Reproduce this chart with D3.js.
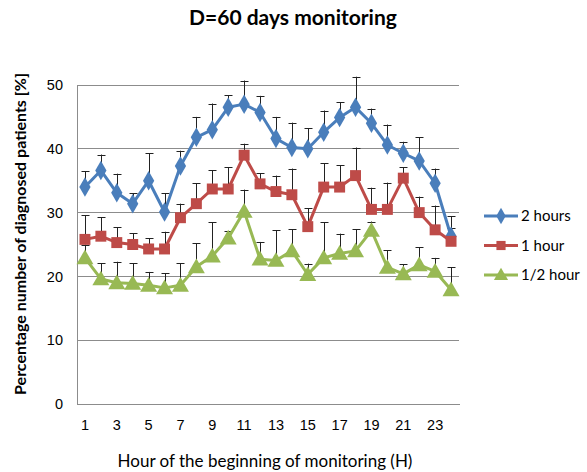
<!DOCTYPE html>
<html>
<head>
<meta charset="utf-8">
<script src="https://cdn.jsdelivr.net/npm/d3@7"></script>
<style>
  body { margin: 0; background: #fff; }
  svg { font-family: Lato, "Open Sans", sans-serif; }
</style>
</head>
<body>
<div id="chart"></div>
<script>
// hours 1..24
var hours = d3.range(1, 25);
var tickHours = [1, 3, 5, 7, 9, 11, 13, 15, 17, 19, 21, 23];
var yTicks = [0, 10, 20, 30, 40, 50];

var seriesNames = ["2 hours", "1 hour", "1/2 hour"];

var twoHours = [34.0, 36.6, 33.1, 31.4, 35.0, 30.1, 37.3, 41.8, 43.0, 46.5, 47.0, 45.7,
  41.6, 40.2, 40.0, 42.6, 44.9, 46.5, 44.0, 40.6, 39.3, 38.1, 34.6, 26.3];
var twoHoursErr = [36.5, 39.1, 36.1, 33.0, 39.3, 33.0, 39.7, 45.0, 47.1, 48.4, 50.7, 48.3,
  45.0, 44.1, 43.2, 46.0, 47.3, 51.3, 46.3, 43.8, 41.1, 41.8, 36.9, 29.4];

var oneHour = [25.8, 26.3, 25.3, 25.0, 24.3, 24.3, 29.2, 31.4, 33.7, 33.7, 39.0, 34.5,
  33.3, 32.8, 27.8, 34.0, 34.0, 35.8, 30.5, 30.5, 35.4, 30.0, 27.3, 25.5];
var oneHourErr = [29.6, 29.3, 27.7, 26.8, 26.0, 27.0, 31.4, 34.6, 36.6, 37.1, 40.8, 36.2,
  35.8, 36.9, 30.7, 37.7, 37.4, 40.2, 33.9, 34.7, 37.1, 32.5, 31.1, 27.6];

var halfHour = [22.9, 19.6, 19.0, 18.9, 18.6, 18.2, 18.6, 21.5, 23.2, 26.0, 30.2, 22.7,
  22.5, 24.0, 20.3, 22.9, 23.6, 24.0, 27.2, 21.4, 20.4, 21.8, 20.8, 17.9];
var halfHourErr = [25.0, 22.1, 22.3, 22.1, 20.7, 20.5, 22.1, 25.2, 28.5, 27.1, 33.6, 25.4,
  27.2, 27.4, 22.0, 28.5, 26.7, 27.4, 28.6, 24.1, 21.9, 24.6, 22.9, 21.4];

var colors = ["#4a7ebb", "#be4b48", "#98b954"];
var symbols = [d3.symbolDiamond, d3.symbolSquare, d3.symbolTriangle];
var symSizes = [110, 120, 125];

var series = [
  { name: seriesNames[0], values: twoHours, err: twoHoursErr },
  { name: seriesNames[1], values: oneHour, err: oneHourErr },
  { name: seriesNames[2], values: halfHour, err: halfHourErr }
];

var width = 587, height = 472;
var margin = { top: 85, right: 128, bottom: 68, left: 77 };

var svg = d3.select("#chart").append("svg")
  .attr("width", width)
  .attr("height", height);

var x = d3.scaleBand()
  .domain(hours)
  .range([margin.left, width - margin.right]);

var y = d3.scaleLinear()
  .domain([0, 50])
  .range([height - margin.bottom, margin.top]);

var cx = function(h) { return x(h) + x.bandwidth() / 2; };

// gridlines
svg.append("g")
  .selectAll("line")
  .data(yTicks.slice(1))
  .join("line")
  .attr("x1", margin.left)
  .attr("x2", width - margin.right)
  .attr("y1", function(d) { return y(d); })
  .attr("y2", function(d) { return y(d); })
  .attr("stroke", "#8c8c8c")
  .attr("stroke-width", 1)
  .attr("shape-rendering", "crispEdges");

// y axis
var yAxis = svg.append("g")
  .attr("transform", "translate(" + margin.left + ",0)")
  .call(d3.axisLeft(y).tickValues(yTicks).tickSize(0).tickPadding(14));
yAxis.select(".domain").attr("stroke", "#8c8c8c").attr("shape-rendering", "crispEdges");
yAxis.selectAll("text").attr("font-size", 14.5).attr("fill", "#000");

// x axis
var xAxis = svg.append("g")
  .attr("transform", "translate(0," + y(0) + ")")
  .call(d3.axisBottom(x).tickValues(tickHours).tickSize(0).tickPadding(16));
xAxis.select(".domain").attr("stroke", "#8c8c8c").attr("shape-rendering", "crispEdges");
xAxis.selectAll("text").attr("font-size", 14.5).attr("fill", "#000");

// error bars (upper)
series.forEach(function(s) {
  var g = svg.append("g").attr("stroke", "#222").attr("stroke-width", 1);
  g.selectAll("line.v")
    .data(hours)
    .join("line")
    .attr("class", "v")
    .attr("x1", function(h) { return Math.round(cx(h)) + 0.5; })
    .attr("x2", function(h) { return Math.round(cx(h)) + 0.5; })
    .attr("y1", function(h, i) { return y(s.values[i]); })
    .attr("y2", function(h, i) { return y(s.err[i]); });
  g.selectAll("line.c")
    .data(hours)
    .join("line")
    .attr("class", "c")
    .attr("x1", function(h) { return Math.round(cx(h)) + 0.5 - 4; })
    .attr("x2", function(h) { return Math.round(cx(h)) + 0.5 + 4; })
    .attr("y1", function(h, i) { return Math.round(y(s.err[i])) + 0.5; })
    .attr("y2", function(h, i) { return Math.round(y(s.err[i])) + 0.5; });
});

// lines + markers
var line = d3.line()
  .x(function(d) { return cx(d.h); })
  .y(function(d) { return y(d.v); });

series.forEach(function(s, k) {
  var pts = hours.map(function(h, i) { return { h: h, v: s.values[i] }; });
  svg.append("path")
    .datum(pts)
    .attr("fill", "none")
    .attr("stroke", colors[k])
    .attr("stroke-width", 3)
    .attr("stroke-linejoin", "round")
    .attr("d", line);
  svg.append("g")
    .selectAll("path")
    .data(pts)
    .join("path")
    .attr("transform", function(d) {
      var dy = k === 2 ? 1.5 : 0;
      return "translate(" + cx(d.h) + "," + (y(d.v) + dy) + ")";
    })
    .attr("d", d3.symbol().type(symbols[k]).size(symSizes[k]))
    .attr("fill", colors[k]);
});

// legend
var legend = svg.append("g");
series.forEach(function(s, k) {
  var ly = 216 + k * 29.5;
  legend.append("line")
    .attr("x1", 484).attr("x2", 518)
    .attr("y1", ly).attr("y2", ly)
    .attr("stroke", colors[k]).attr("stroke-width", 3);
  legend.append("path")
    .attr("transform", "translate(501," + (ly + (k === 2 ? 1 : 0)) + ")")
    .attr("d", d3.symbol().type(symbols[k]).size(symSizes[k] * 0.7))
    .attr("fill", colors[k]);
  legend.append("text")
    .attr("x", 521).attr("y", ly + 5)
    .attr("font-size", 15)
    .text(s.name);
});

// title
svg.append("text")
  .attr("x", 293).attr("y", 25)
  .attr("text-anchor", "middle")
  .attr("font-size", 21)
  .attr("font-weight", "bold")
  .text("D=60 days monitoring");

// axis titles
svg.append("text")
  .attr("transform", "translate(26,234) rotate(-90)")
  .attr("text-anchor", "middle")
  .attr("font-size", 16)
  .attr("font-weight", "bold")
  .text("Percentage number of diagnosed patients [%]");

svg.append("text")
  .attr("x", 265).attr("y", 467)
  .attr("text-anchor", "middle")
  .attr("font-size", 17)
  .text("Hour of the beginning of monitoring (H)");
</script>
</body>
</html>
